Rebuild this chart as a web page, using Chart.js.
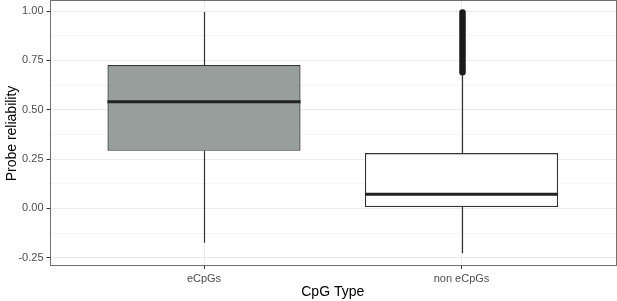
<!DOCTYPE html>
<html>
<head>
<meta charset="utf-8">
<script src="https://cdn.jsdelivr.net/npm/chart.js@4/dist/chart.umd.min.js"></script>
<style>
html,body{margin:0;padding:0;background:#fff;}
canvas{display:block;}
</style>
</head>
<body>
<canvas id="c" width="617" height="301"></canvas>
<script>
// ---- data ----
const categories = ['eCpGs', 'non eCpGs'];
const q1 = [0.292, 0.007];
const q3 = [0.726, 0.280];
const medians = [0.540, 0.072];
const whiskerLow = [-0.174, -0.227];
const whiskerHigh = [0.995, 0.680];
const outlierMin = [null, 0.690];
const outlierMax = [null, 0.993];
const yTickValues = [-0.25, 0, 0.25, 0.5, 0.75, 1.0];
const yMinorValues = [-0.125, 0.125, 0.375, 0.625, 0.875];
const fills = ['#969f9c', '#ffffff'];

const xs = categories.map((c, i) => i + 1);
const allY = yTickValues.concat(yMinorValues).sort((a, b) => a - b);

const boxPlugin = {
  id: 'boxExtras',
  beforeDatasetsDraw(chart) {
    const ctx = chart.ctx, x = chart.scales.x, y = chart.scales.y;
    ctx.save();
    ctx.strokeStyle = '#333333';
    ctx.lineWidth = 1.2;
    xs.forEach((xv, i) => {
      const px = Math.round(x.getPixelForValue(xv)) + 0.5;
      ctx.beginPath();
      ctx.moveTo(px, y.getPixelForValue(whiskerHigh[i]));
      ctx.lineTo(px, y.getPixelForValue(q3[i]));
      ctx.moveTo(px, y.getPixelForValue(q1[i]));
      ctx.lineTo(px, y.getPixelForValue(whiskerLow[i]));
      ctx.stroke();
    });
    ctx.restore();
  },
  afterDatasetsDraw(chart) {
    const ctx = chart.ctx, x = chart.scales.x, y = chart.scales.y;
    const meta = chart.getDatasetMeta(0);
    ctx.save();
    xs.forEach((xv, i) => {
      const bar = meta.data[i];
      const half = bar.width / 2;
      const px = x.getPixelForValue(xv);
      ctx.strokeStyle = '#222222';
      ctx.lineWidth = 3;
      ctx.beginPath();
      const my = y.getPixelForValue(medians[i]);
      ctx.moveTo(px - half, my);
      ctx.lineTo(px + half, my);
      ctx.stroke();
      if (outlierMin[i] !== null) {
        ctx.strokeStyle = '#1a1a1a';
        ctx.lineWidth = 6.5;
        ctx.lineCap = 'round';
        ctx.beginPath();
        const cx = Math.round(px) + 0.5;
        ctx.moveTo(cx, y.getPixelForValue(outlierMin[i]));
        ctx.lineTo(cx, y.getPixelForValue(outlierMax[i]));
        ctx.stroke();
        ctx.lineCap = 'butt';
      }
    });
    // panel border
    const a = chart.chartArea;
    ctx.strokeStyle = '#707070';
    ctx.lineWidth = 1;
    ctx.strokeRect(Math.round(a.left) + 0.5, Math.round(a.top) - 0.5, Math.round(a.right - a.left) - 1, Math.round(a.bottom - a.top));
    ctx.restore();
  }
};

new Chart(document.getElementById('c'), {
  type: 'bar',
  data: {
    datasets: [{
      data: xs.map((xv, i) => ({ x: xv, y: [q1[i], q3[i]] })),
      backgroundColor: fills,
      borderColor: '#333333',
      borderWidth: 1.3,
      borderSkipped: false,
      categoryPercentage: 1,
      barPercentage: 0.75
    }]
  },
  options: {
    responsive: false,
    devicePixelRatio: 1,
    animation: false,
    layout: { padding: { top: 1, right: 1, left: 0, bottom: 0 } },
    plugins: { legend: { display: false }, tooltip: { enabled: false } },
    scales: {
      x: {
        type: 'linear',
        offset: false,
        min: 0.4, max: 2.6,
        afterBuildTicks: s => { s.ticks = xs.map(v => ({ value: v })); },
        afterFit: s => { s.height = 35; s.paddingLeft = 0; s.paddingRight = 0; },
        ticks: {
          callback: (v) => categories[Math.round(v) - 1] || '',
          color: '#4d4d4d',
          font: { family: 'Liberation Sans', size: 11 },
          padding: 3,
          maxRotation: 0
        },
        grid: { offset: false, color: '#ebebeb', tickLength: 3, tickColor: '#333333', lineWidth: 1 },
        border: { display: false },
        title: {
          display: true, text: 'CpG Type', color: '#000000',
          font: { family: 'Liberation Sans', size: 14 },
          padding: { top: 0, bottom: 0 }
        }
      },
      y: {
        min: -0.292, max: 1.0507,
        afterBuildTicks: s => { s.ticks = allY.map(v => ({ value: v })); },
        afterFit: s => { s.width = 49.5; s.paddingTop = 0; s.paddingBottom = 0; },
        ticks: {
          callback: (v) => yTickValues.some(t => Math.abs(t - v) < 1e-6) ? Number(v).toFixed(2) : '',
          color: '#4d4d4d',
          font: { family: 'Liberation Sans', size: 11 },
          padding: 3
        },
        grid: {
          color: c => yTickValues.some(t => Math.abs(t - c.tick.value) < 1e-6) ? '#ebebeb' : '#f5f5f5',
          tickColor: c => yTickValues.some(t => Math.abs(t - c.tick.value) < 1e-6) ? '#333333' : 'rgba(0,0,0,0)',
          tickLength: 3,
          lineWidth: 1
        },
        border: { display: false },
        title: {
          display: true, text: 'Probe reliability', color: '#000000',
          font: { family: 'Liberation Sans', size: 14 },
          padding: { top: 4, bottom: 0 }
        }
      }
    }
  },
  plugins: [boxPlugin]
});
</script>
</body>
</html>
